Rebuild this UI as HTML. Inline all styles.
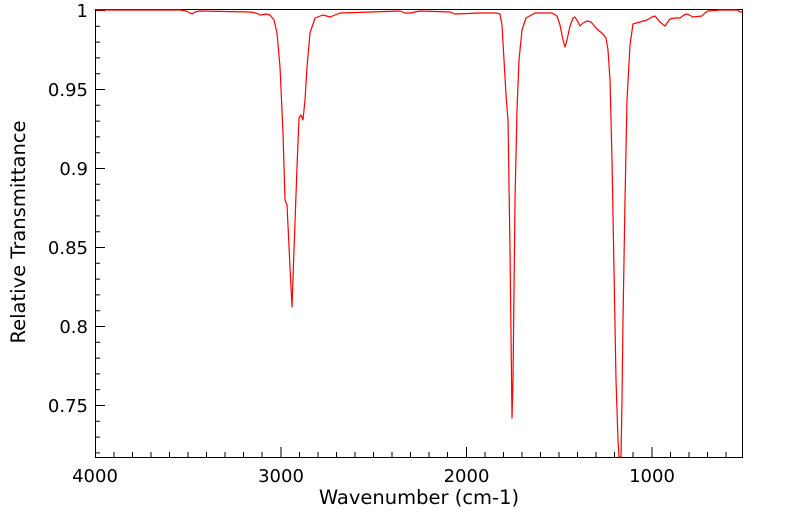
<!DOCTYPE html>
<html><head><meta charset="utf-8"><style>
body{margin:0;background:#fff;}
svg{display:block;font-family:"DejaVu Sans","Liberation Sans",sans-serif;}
</style></head><body>
<svg width="799" height="516" viewBox="0 0 799 516" xmlns="http://www.w3.org/2000/svg">
<rect x="0" y="0" width="799" height="516" fill="#fff"/>
<g stroke="#000" stroke-width="1" fill="none">
<rect x="95.5" y="9.5" width="647" height="448"/>
<path d="
M95.5 457v-10 M281 457v-10 M466.5 457v-10 M652 457v-10
M114 457v-5 M132.5 457v-5 M151 457v-5 M169.5 457v-5 M188 457v-5 M206.5 457v-5 M225 457v-5 M243.5 457v-5 M262 457v-5
M299.5 457v-5 M318 457v-5 M336.5 457v-5 M355 457v-5 M373.5 457v-5 M392 457v-5 M410.5 457v-5 M429 457v-5 M447.5 457v-5
M485 457v-5 M503.5 457v-5 M522 457v-5 M540.5 457v-5 M559 457v-5 M577.5 457v-5 M596 457v-5 M614.5 457v-5 M633 457v-5
M670.5 457v-5 M689 457v-5 M707.5 457v-5 M726 457v-5
M95 10.5h10 M95 89.5h10 M95 168.5h10 M95 247.5h10 M95 326.5h10 M95 405.5h10
M95 26.3h5 M95 42.1h5 M95 57.9h5 M95 73.7h5
M95 105.3h5 M95 121.1h5 M95 136.9h5 M95 152.7h5
M95 184.3h5 M95 200.1h5 M95 215.9h5 M95 231.7h5
M95 263.3h5 M95 279.1h5 M95 294.9h5 M95 310.7h5
M95 342.3h5 M95 358.1h5 M95 373.9h5 M95 389.7h5
M95 421.3h5 M95 437.1h5 M95 452.9h5"/>
</g>
<g font-size="18" fill="#000">
<text x="88" y="17" text-anchor="end">1</text>
<text x="88" y="96" text-anchor="end">0.95</text>
<text x="88" y="175" text-anchor="end">0.9</text>
<text x="88" y="254" text-anchor="end">0.85</text>
<text x="88" y="333" text-anchor="end">0.8</text>
<text x="88" y="412" text-anchor="end">0.75</text>
<text x="95" y="482" text-anchor="middle">4000</text>
<text x="281" y="482" text-anchor="middle">3000</text>
<text x="466.5" y="482" text-anchor="middle">2000</text>
<text x="652" y="482" text-anchor="middle">1000</text>
</g>
<g font-size="19.5" fill="#000">
<text x="419" y="504" text-anchor="middle">Wavenumber (cm-1)</text>
<text transform="translate(25,232) rotate(-90)" text-anchor="middle">Relative Transmittance</text>
</g>
<polyline fill="none" stroke="#f00" stroke-width="1.2" stroke-linejoin="round" points="
96,10 180,10 186,11 190,13 192,14 195,12 200,11 250,12 256,13 260,15 266,14 270,15 274,20 277,33 280,67 283,133 285,200 287,205 290,267 292,307 294,250 297,167 299,118 301,115 303,120 305,100 307,67 310,33 315,18 323,15 330,17 340,13 400,11 405,13 410,13 420,11 450,12 455,14 480,13 496,13 500,14 502,25 504,60 506,95 508,120 510,250 512,418 513,380 515,200 517,110 519,60 522,30 526,18 535,13 552,13 557,16 560,25 563,40 565,47 567,40 570,26 573,18 575,17 578,22 580,26 583,23 587,21 591,22 597,29 603,34 606,38 608,50 610,80 612,160 614,270 616,380 618,440 619,457 621,457 622,400 623,320 625,200 627,100 630,45 633,24 640,22 647,20 652,17 655,16 660,22 665,26 670,19 675,18 680,18 684,15 687,14 693,17 702,16 705,13 708,11 720,10 737,10 740,12 742,12"/>
</svg>
</body></html>
